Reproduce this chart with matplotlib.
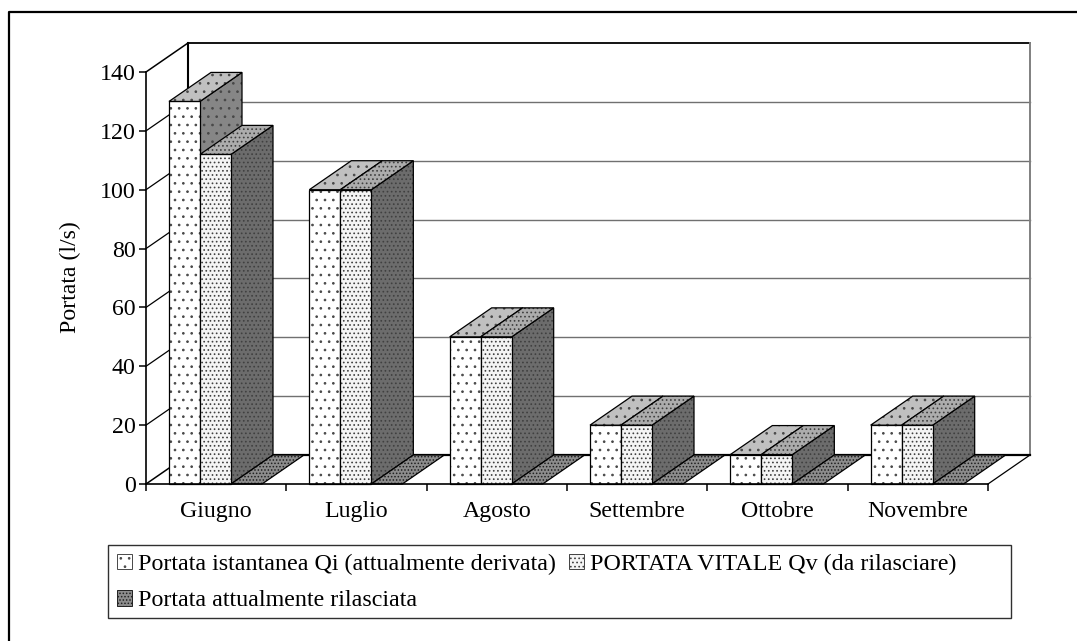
import matplotlib
matplotlib.use('Agg')
import matplotlib.pyplot as plt
from matplotlib.patches import Polygon, Patch, Rectangle
from matplotlib.lines import Line2D

plt.rcParams['font.family'] = 'Liberation Serif'
plt.rcParams['hatch.linewidth'] = 0.7

months = ['Giugno', 'Luglio', 'Agosto', 'Settembre', 'Ottobre', 'Novembre']
qi = [130, 100, 50, 20, 10, 20]
qv = [112, 100, 50, 20, 10, 20]
rilasciata = [0, 0, 0, 0, 0, 0]
series_names = ['Portata istantanea Qi (attualmente derivata)',
                'PORTATA VITALE Qv (da rilasciare)',
                'Portata attualmente rilasciata']
yticks = [0, 20, 40, 60, 80, 100, 120, 140]

# face colours: front, top, side, dots
styles = [('#ffffff', '#c0c0c0', '#868686', '..'),
          ('#f4f4f4', '#acacac', '#6c6c6c', '....'),
          ('#8c8c8c', '#8c8c8c', '#606060', '.....')]
dot_colors = ['#484848', '#404040', '#202020']

W, H = 1077, 641
dpi = 100
fig = plt.figure(figsize=(W / dpi, H / dpi), dpi=dpi)

# front plane of the 3d box, in pixels
left, right, top, bottom = 146, 988, 72, 484
ax = fig.add_axes([left / W, 1 - bottom / H, (right - left) / W, (bottom - top) / H])
ax.set_xlim(0, len(months))
ax.set_ylim(0, 140)
ax.patch.set_visible(False)
for s in ax.spines.values():
    s.set_visible(False)

# depth of the box expressed in data units
dx = 42 / ((right - left) / len(months))
dy = 29 / ((bottom - top) / 140)
xmax = len(months)


def line(xs, ys, color='k', lw=1.0, z=1):
    ax.plot(xs, ys, color=color, lw=lw, zorder=z, clip_on=False, solid_capstyle='projecting')


def face(pts, color, hatch, dotc, z):
    ax.add_patch(Polygon(pts, closed=True, facecolor=color, edgecolor=dotc, hatch=hatch,
                         lw=0, zorder=z, clip_on=False))
    ax.add_patch(Polygon(pts, closed=True, fill=False, edgecolor='k', lw=0.9, zorder=z + 0.01, clip_on=False))


def bar3d(x0, w, v, style, dotc, z):
    front, topc, side, hatch = style
    if v > 0:
        face([(x0 + w, 0), (x0 + w + dx, dy), (x0 + w + dx, v + dy), (x0 + w, v)], side, hatch, dotc, z)
        face([(x0, 0), (x0 + w, 0), (x0 + w, v), (x0, v)], front, hatch, dotc, z + 0.02)
    face([(x0, v), (x0 + w, v), (x0 + w + dx, v + dy), (x0 + dx, v + dy)], topc, hatch, dotc, z + 0.04)


# walls
for v in yticks[:-1]:
    if v > 0:
        line([dx, xmax + dx], [v + dy, v + dy], color='#707070', lw=1.0, z=1)
        line([0, dx], [v, v + dy], color='k', lw=0.9, z=1)
line([0, dx], [140, 140 + dy], lw=1.1, z=1)
line([dx, xmax + dx], [140 + dy, 140 + dy], lw=1.3, z=1)
line([dx, dx], [dy, 140 + dy], lw=1.5, z=1)
line([xmax + dx, xmax + dx], [dy, 140 + dy], color='#808080', lw=1.4, z=1)
line([0, 0], [0, 140], lw=1.2, z=1)
line([dx, xmax + dx], [dy, dy], lw=1.6, z=1)
line([0, dx], [0, dy], lw=1.1, z=1)
line([xmax, xmax + dx], [0, dy], lw=0.9, z=1)
line([0, xmax], [0, 0], lw=1.2, z=9)

bar_w = 31 / ((right - left) / len(months))
gap = 23 / ((right - left) / len(months))
for i in range(len(months)):
    z = 2 + i
    bar3d(i + gap, bar_w, qi[i], styles[0], dot_colors[0], z)
    bar3d(i + gap + bar_w, bar_w, qv[i], styles[1], dot_colors[1], z + 0.2)
    bar3d(i + gap + 2 * bar_w, bar_w, rilasciata[i], styles[2], dot_colors[2], z + 0.4)

ax.set_yticks(yticks)
ax.set_xticks(range(len(months) + 1))
ax.set_xticklabels([])
for i, m in enumerate(months):
    ax.text(i + 0.5, -0.042, m, transform=ax.get_xaxis_transform(), ha='center', va='top', fontsize=17.2)
ax.tick_params(axis='both', length=5, width=1.1, color='k', labelsize=17.2, pad=2.5)
ax.set_ylabel('Portata (l/s)', fontsize=17.2)
ax.yaxis.set_label_coords(-0.077, 0.502)

# columns fill first, so the third series goes second to land on the second row
order = [0, 2, 1]
handles = [Patch(facecolor=styles[k][0], edgecolor=dot_colors[k], hatch=styles[k][3], lw=0.7) for k in order]
leg = fig.legend(handles, [series_names[k] for k in order], ncol=2, loc='upper left',
                 bbox_to_anchor=(108 / W, 1 - 545 / H), bbox_transform=fig.transFigure,
                 fontsize=17.3, frameon=False,
                 handlelength=0.62, handleheight=0.62, handletextpad=0.25, columnspacing=0.54,
                 labelspacing=0.62, borderpad=0.37, borderaxespad=0)

fig.add_artist(Rectangle((108 / W, 1 - 618 / H), 903 / W, 73 / H, transform=fig.transFigure,
                         fill=False, edgecolor='#303030', lw=1.0))

# outer frame of the picture runs off the right and bottom edges
fig.add_artist(Line2D([9 / W, 9 / W, 1], [0, 1 - 12 / H, 1 - 12 / H], transform=fig.transFigure,
                      color='k', lw=1.6))

fig.savefig('out.png', dpi=dpi)
